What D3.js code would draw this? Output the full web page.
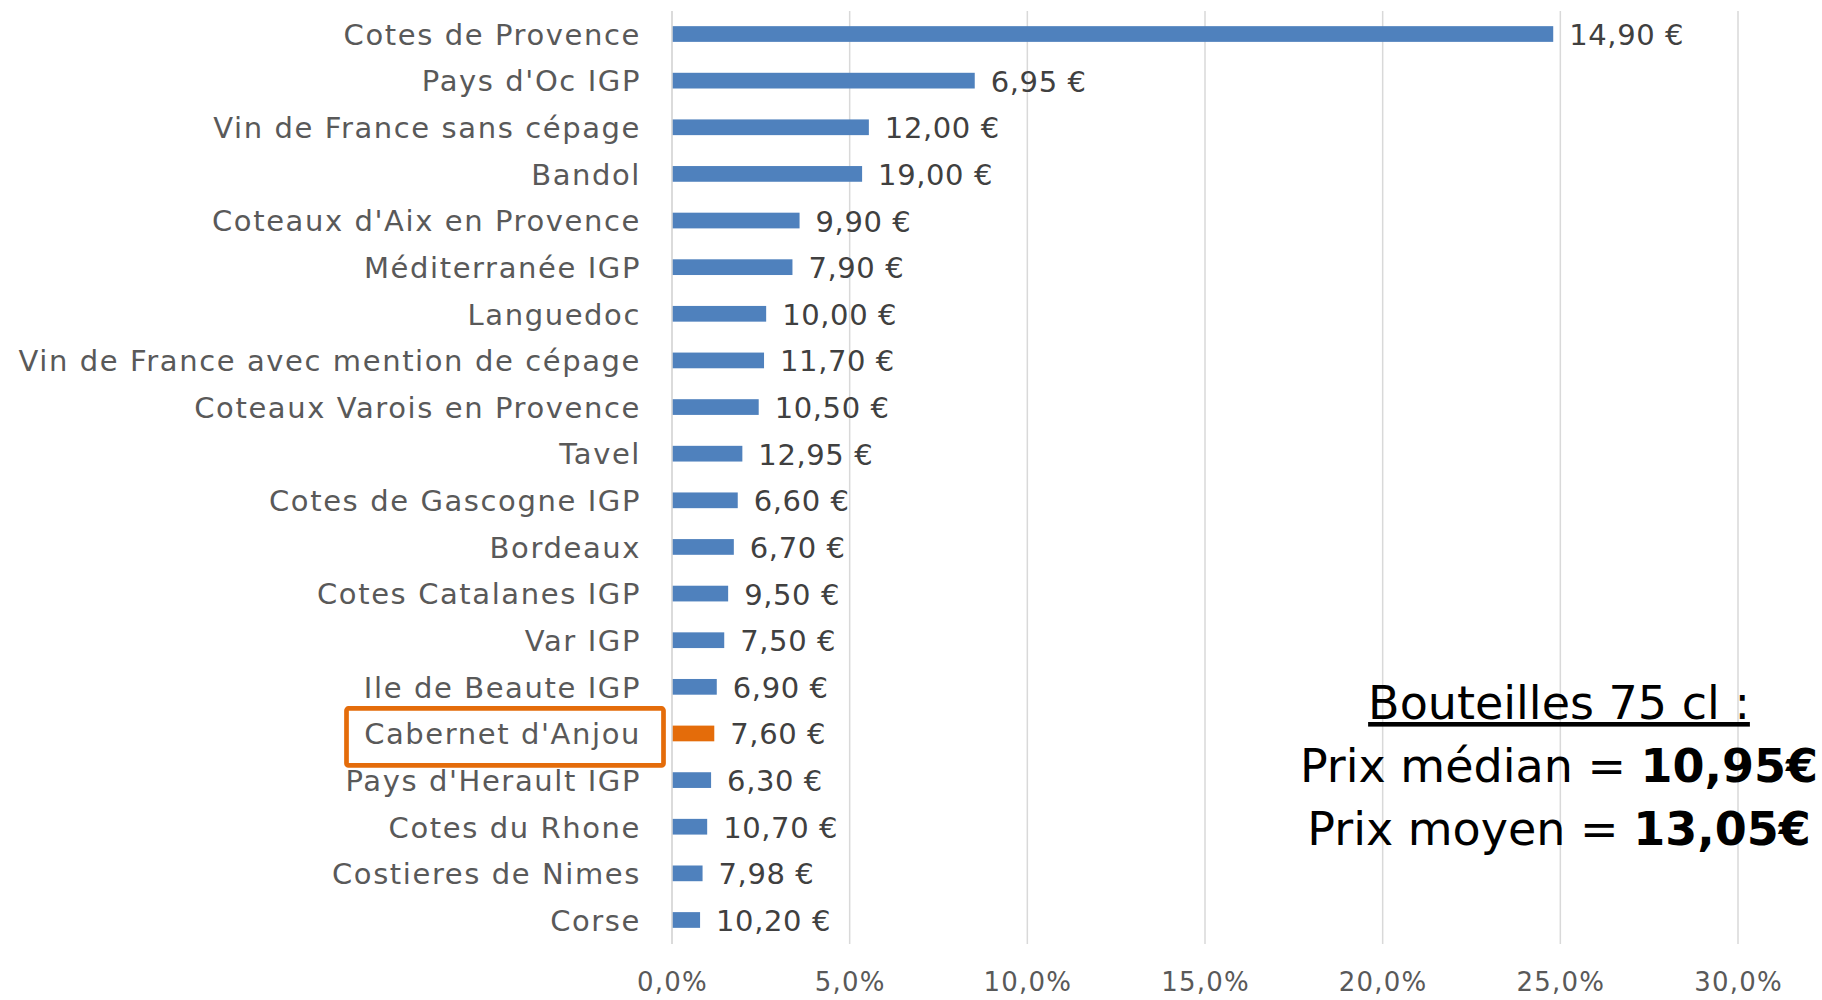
<!DOCTYPE html>
<html><head><meta charset="utf-8">
<script src="https://cdn.jsdelivr.net/npm/d3@7"></script>
<style>
html,body{margin:0;padding:0;background:#fff;overflow:hidden}
svg{display:block}
</style></head>
<body>
<svg id="chart" width="1822" height="1000"></svg>
<script>
const categories = ["Cotes de Provence","Pays d'Oc IGP","Vin de France sans cépage","Bandol","Coteaux d'Aix en Provence","Méditerranée IGP","Languedoc","Vin de France avec mention de cépage","Coteaux Varois en Provence","Tavel","Cotes de Gascogne IGP","Bordeaux","Cotes Catalanes IGP","Var IGP","Ile de Beaute IGP","Cabernet d'Anjou","Pays d'Herault IGP","Cotes du Rhone","Costieres de Nimes","Corse"];
const shares = [0.2480,0.0852,0.0554,0.0535,0.0359,0.0339,0.0265,0.0259,0.0244,0.0198,0.0185,0.0174,0.0158,0.0147,0.0126,0.0119,0.0110,0.0099,0.0086,0.0079];
const prices = [14.90,6.95,12.00,19.00,9.90,7.90,10.00,11.70,10.50,12.95,6.60,6.70,9.50,7.50,6.90,7.60,6.30,10.70,7.98,10.20];
const highlight = "Cabernet d'Anjou";
const xTicks = [0,0.05,0.10,0.15,0.20,0.25,0.30];
const noteTitle = "Bouteilles 75 cl :";
const noteLines = [["Prix médian = ","10,95€"],["Prix moyen = ","13,05€"]];

const FONT = "'DejaVu Sans', sans-serif";
const svg = d3.select("#chart");
const x = d3.scaleLinear().domain([0,0.30]).range([672,1738]);
const y = d3.scaleBand().domain(categories).range([10.7,943.3]).paddingInner(0.663).paddingOuter(0.3315);
const fmtPct = v => d3.format(".1f")(v*100).replace(".",",")+"%";
const fmtEur = v => d3.format(".2f")(v).replace(".",",")+" €";

// gridlines
svg.append("g").selectAll("line").data(xTicks).join("line")
  .attr("x1",d=>x(d)).attr("x2",d=>x(d)).attr("y1",11).attr("y2",944)
  .attr("stroke","#d9d9d9").attr("stroke-width",1.5);

// axis tick labels
const xAxis = d3.axisBottom(x).tickValues(xTicks).tickFormat(fmtPct).tickSize(0).tickPadding(0);
const gx = svg.append("g").attr("transform","translate(0,972)").call(xAxis);
gx.select(".domain").remove();
gx.selectAll("text").attr("font-family",FONT).attr("font-size",26).attr("fill","#595959")
  .attr("letter-spacing",1.2).attr("dy","0.72em");

// bars
svg.append("g").selectAll("rect").data(categories).join("rect")
  .attr("x",x(0)).attr("y",d=>y(d)).attr("height",y.bandwidth())
  .attr("width",(d,i)=>x(shares[i])-x(0))
  .attr("fill",d=>d===highlight?"#E46C0A":"#4F81BD");

// y axis line
svg.append("line").attr("x1",x(0)).attr("x2",x(0)).attr("y1",11).attr("y2",944)
  .attr("stroke","#d9d9d9").attr("stroke-width",1.5);

// category labels
svg.append("g").selectAll("text").data(categories).join("text")
  .attr("x",641).attr("y",d=>y(d)+y.bandwidth()/2+10.8)
  .attr("text-anchor","end").attr("font-family",FONT).attr("font-size",29)
  .attr("letter-spacing",1.6)
  .attr("fill","#595959").text(d=>d);

// value labels
svg.append("g").selectAll("text").data(categories).join("text")
  .attr("x",(d,i)=>x(shares[i])+16).attr("y",d=>y(d)+y.bandwidth()/2+11)
  .attr("font-family",FONT).attr("font-size",29).attr("letter-spacing",0.6)
  .attr("fill","#404040").text((d,i)=>fmtEur(prices[i]));

// highlight box
const cy = y(highlight)+y.bandwidth()/2;
svg.append("rect").attr("x",346.5).attr("y",cy-25).attr("width",317).attr("height",57)
  .attr("rx",2).attr("fill","none").attr("stroke","#E46C0A").attr("stroke-width",4.7);

// note
const nx = 1559;
svg.append("text").attr("x",nx).attr("y",719).attr("text-anchor","middle")
  .attr("font-family",FONT).attr("font-size",46).attr("fill","#000")
  .attr("text-decoration","underline").text(noteTitle);
noteLines.forEach((ln,i)=>{
  const t = svg.append("text").attr("x",nx).attr("y",782+i*63).attr("text-anchor","middle")
    .attr("font-family",FONT).attr("font-size",46).attr("fill","#000");
  t.append("tspan").text(ln[0]);
  t.append("tspan").attr("font-weight","bold").text(ln[1]);
});
</script>
</body></html>
